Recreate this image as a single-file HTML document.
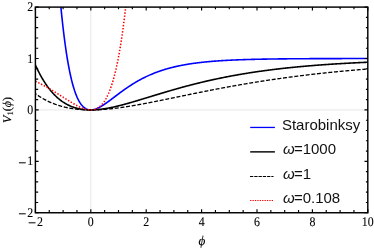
<!DOCTYPE html>
<html><head><meta charset="utf-8"><style>
html,body{margin:0;padding:0;background:#fff;overflow:hidden;}
svg{display:block;will-change:transform}
.t{font-family:"Liberation Serif",serif;font-size:13.2px;fill:#000;stroke:#000;stroke-width:0.1px;text-rendering:geometricPrecision}
.lg{font-family:"Liberation Sans",sans-serif;font-size:15px;fill:#111}
</style></head><body>
<svg width="374" height="248" viewBox="0 0 374 248">
<rect width="374" height="248" fill="#fff"/>
<defs><clipPath id="c"><rect x="35.4" y="7.1" width="332.40000000000003" height="205.65"/></clipPath></defs>
<path d="M90.80,7.1 V212.75 M35.4,109.92 H367.8" stroke="#e2e2e2" stroke-width="0.8" fill="none"/>
<g clip-path="url(#c)" fill="none" stroke-linejoin="round">
<path d="M59.78,-5.06 L60.33,1.08 L60.88,6.94 L61.44,12.56 L61.99,17.93 L62.55,23.06 L63.10,27.97 L63.65,32.66 L64.21,37.14 L64.76,41.41 L65.32,45.49 L65.87,49.38 L66.42,53.09 L66.98,56.63 L67.53,60.00 L68.09,63.20 L68.64,66.25 L69.19,69.15 L69.75,71.91 L70.30,74.52 L70.86,77.01 L71.41,79.36 L71.96,81.59 L72.52,83.71 L73.07,85.71 L73.63,87.60 L74.18,89.38 L74.73,91.06 L75.29,92.65 L75.84,94.14 L76.40,95.54 L76.95,96.86 L77.50,98.09 L78.06,99.24 L78.61,100.32 L79.17,101.32 L79.72,102.26 L80.27,103.12 L80.83,103.92 L81.38,104.66 L81.94,105.34 L82.49,105.96 L83.04,106.53 L83.60,107.05 L84.15,107.52 L84.71,107.93 L85.26,108.31 L85.81,108.64 L86.37,108.92 L86.92,109.17 L87.48,109.38 L88.03,109.55 L88.58,109.69 L89.14,109.80 L89.69,109.87 L90.25,109.91 L90.80,109.92 L91.35,109.91 L91.91,109.87 L92.46,109.81 L93.02,109.72 L93.57,109.61 L94.12,109.48 L94.68,109.33 L95.23,109.15 L95.79,108.96 L96.34,108.76 L96.89,108.54 L97.45,108.30 L98.00,108.04 L98.56,107.78 L99.11,107.50 L99.66,107.21 L100.22,106.90 L100.77,106.59 L101.33,106.27 L101.88,105.93 L102.43,105.59 L102.99,105.24 L103.54,104.88 L104.10,104.52 L104.65,104.15 L105.20,103.77 L105.76,103.39 L106.31,103.00 L106.87,102.61 L107.42,102.21 L107.97,101.81 L108.53,101.41 L109.08,101.00 L109.64,100.59 L110.19,100.18 L110.74,99.77 L111.30,99.35 L111.85,98.93 L112.41,98.52 L112.96,98.10 L113.51,97.68 L114.07,97.26 L114.62,96.84 L115.18,96.42 L115.73,96.00 L116.28,95.58 L116.84,95.16 L117.39,94.75 L117.95,94.33 L118.50,93.92 L119.05,93.50 L119.61,93.09 L120.16,92.68 L120.72,92.27 L121.27,91.87 L121.82,91.46 L122.38,91.06 L122.93,90.66 L123.49,90.26 L124.04,89.87 L124.59,89.47 L125.15,89.08 L125.70,88.70 L126.26,88.31 L126.81,87.93 L127.36,87.55 L127.92,87.18 L128.47,86.81 L129.03,86.44 L129.58,86.07 L130.13,85.71 L130.69,85.35 L131.24,84.99 L131.80,84.64 L132.35,84.29 L132.90,83.94 L133.46,83.60 L134.01,83.26 L134.57,82.92 L135.12,82.59 L135.67,82.26 L136.23,81.93 L136.78,81.61 L137.34,81.29 L137.89,80.97 L138.44,80.66 L139.00,80.35 L139.55,80.04 L140.11,79.74 L140.66,79.44 L141.21,79.15 L141.77,78.85 L142.32,78.57 L142.88,78.28 L143.43,78.00 L143.98,77.72 L144.54,77.44 L145.09,77.17 L145.65,76.90 L146.20,76.64 L146.75,76.37 L147.31,76.12 L147.86,75.86 L148.42,75.61 L148.97,75.36 L149.52,75.11 L150.08,74.87 L150.63,74.63 L151.19,74.39 L151.74,74.16 L152.29,73.93 L152.85,73.70 L153.40,73.47 L153.96,73.25 L154.51,73.03 L155.06,72.82 L155.62,72.60 L156.17,72.39 L156.73,72.19 L157.28,71.98 L157.83,71.78 L158.39,71.58 L158.94,71.38 L159.50,71.19 L160.05,71.00 L160.60,70.81 L161.16,70.62 L161.71,70.44 L162.27,70.26 L162.82,70.08 L163.37,69.91 L163.93,69.73 L164.48,69.56 L165.04,69.39 L165.59,69.23 L166.14,69.07 L166.70,68.90 L167.25,68.74 L167.81,68.59 L168.36,68.43 L168.91,68.28 L169.47,68.13 L170.02,67.98 L170.58,67.84 L171.13,67.69 L171.68,67.55 L172.24,67.41 L172.79,67.28 L173.35,67.14 L173.90,67.01 L174.45,66.88 L175.01,66.75 L175.56,66.62 L176.12,66.49 L176.67,66.37 L177.22,66.25 L177.78,66.13 L178.33,66.01 L178.89,65.89 L179.44,65.78 L179.99,65.66 L180.55,65.55 L181.10,65.44 L181.66,65.33 L182.21,65.23 L182.76,65.12 L183.32,65.02 L183.87,64.92 L184.43,64.82 L184.98,64.72 L185.53,64.62 L186.09,64.52 L186.64,64.43 L187.20,64.34 L187.75,64.25 L188.30,64.15 L188.86,64.07 L189.41,63.98 L189.97,63.89 L190.52,63.81 L191.07,63.72 L191.63,63.64 L192.18,63.56 L192.74,63.48 L193.29,63.40 L193.84,63.33 L194.40,63.25 L194.95,63.17 L195.51,63.10 L196.06,63.03 L196.61,62.96 L197.17,62.89 L197.72,62.82 L198.28,62.75 L198.83,62.68 L199.38,62.62 L199.94,62.55 L200.49,62.49 L201.05,62.42 L201.60,62.36 L202.15,62.30 L202.71,62.24 L203.26,62.18 L203.82,62.12 L204.37,62.07 L204.92,62.01 L205.48,61.95 L206.03,61.90 L206.59,61.84 L207.14,61.79 L207.69,61.74 L208.25,61.69 L208.80,61.64 L209.36,61.59 L209.91,61.54 L210.46,61.49 L211.02,61.44 L211.57,61.40 L212.13,61.35 L212.68,61.30 L213.23,61.26 L213.79,61.22 L214.34,61.17 L214.90,61.13 L215.45,61.09 L216.00,61.05 L216.56,61.01 L217.11,60.97 L217.67,60.93 L218.22,60.89 L218.77,60.85 L219.33,60.81 L219.88,60.78 L220.44,60.74 L220.99,60.70 L221.54,60.67 L222.10,60.63 L222.65,60.60 L223.21,60.57 L223.76,60.53 L224.31,60.50 L224.87,60.47 L225.42,60.44 L225.98,60.41 L226.53,60.38 L227.08,60.35 L227.64,60.32 L228.19,60.29 L228.75,60.26 L229.30,60.23 L229.85,60.20 L230.41,60.18 L230.96,60.15 L231.52,60.12 L232.07,60.10 L232.62,60.07 L233.18,60.05 L233.73,60.02 L234.29,60.00 L234.84,59.97 L235.39,59.95 L235.95,59.93 L236.50,59.91 L237.06,59.88 L237.61,59.86 L238.16,59.84 L238.72,59.82 L239.27,59.80 L239.83,59.78 L240.38,59.76 L240.93,59.74 L241.49,59.72 L242.04,59.70 L242.60,59.68 L243.15,59.66 L243.70,59.64 L244.26,59.62 L244.81,59.60 L245.37,59.59 L245.92,59.57 L246.47,59.55 L247.03,59.54 L247.58,59.52 L248.14,59.50 L248.69,59.49 L249.24,59.47 L249.80,59.46 L250.35,59.44 L250.91,59.43 L251.46,59.41 L252.01,59.40 L252.57,59.38 L253.12,59.37 L253.68,59.35 L254.23,59.34 L254.78,59.33 L255.34,59.31 L255.89,59.30 L256.45,59.29 L257.00,59.28 L257.55,59.26 L258.11,59.25 L258.66,59.24 L259.22,59.23 L259.77,59.22 L260.32,59.21 L260.88,59.19 L261.43,59.18 L261.99,59.17 L262.54,59.16 L263.09,59.15 L263.65,59.14 L264.20,59.13 L264.76,59.12 L265.31,59.11 L265.86,59.10 L266.42,59.09 L266.97,59.08 L267.53,59.07 L268.08,59.06 L268.63,59.06 L269.19,59.05 L269.74,59.04 L270.30,59.03 L270.85,59.02 L271.40,59.01 L271.96,59.00 L272.51,59.00 L273.07,58.99 L273.62,58.98 L274.17,58.97 L274.73,58.97 L275.28,58.96 L275.84,58.95 L276.39,58.94 L276.94,58.94 L277.50,58.93 L278.05,58.92 L278.61,58.92 L279.16,58.91 L279.71,58.90 L280.27,58.90 L280.82,58.89 L281.38,58.89 L281.93,58.88 L282.48,58.87 L283.04,58.87 L283.59,58.86 L284.15,58.86 L284.70,58.85 L285.25,58.85 L285.81,58.84 L286.36,58.83 L286.92,58.83 L287.47,58.82 L288.02,58.82 L288.58,58.81 L289.13,58.81 L289.69,58.80 L290.24,58.80 L290.79,58.80 L291.35,58.79 L291.90,58.79 L292.46,58.78 L293.01,58.78 L293.56,58.77 L294.12,58.77 L294.67,58.76 L295.23,58.76 L295.78,58.76 L296.33,58.75 L296.89,58.75 L297.44,58.74 L298.00,58.74 L298.55,58.74 L299.10,58.73 L299.66,58.73 L300.21,58.73 L300.77,58.72 L301.32,58.72 L301.87,58.72 L302.43,58.71 L302.98,58.71 L303.54,58.71 L304.09,58.70 L304.64,58.70 L305.20,58.70 L305.75,58.69 L306.31,58.69 L306.86,58.69 L307.41,58.69 L307.97,58.68 L308.52,58.68 L309.08,58.68 L309.63,58.67 L310.18,58.67 L310.74,58.67 L311.29,58.67 L311.85,58.66 L312.40,58.66 L312.95,58.66 L313.51,58.66 L314.06,58.65 L314.62,58.65 L315.17,58.65 L315.72,58.65 L316.28,58.65 L316.83,58.64 L317.39,58.64 L317.94,58.64 L318.49,58.64 L319.05,58.64 L319.60,58.63 L320.16,58.63 L320.71,58.63 L321.26,58.63 L321.82,58.63 L322.37,58.62 L322.93,58.62 L323.48,58.62 L324.03,58.62 L324.59,58.62 L325.14,58.62 L325.70,58.61 L326.25,58.61 L326.80,58.61 L327.36,58.61 L327.91,58.61 L328.47,58.61 L329.02,58.60 L329.57,58.60 L330.13,58.60 L330.68,58.60 L331.24,58.60 L331.79,58.60 L332.34,58.60 L332.90,58.59 L333.45,58.59 L334.01,58.59 L334.56,58.59 L335.11,58.59 L335.67,58.59 L336.22,58.59 L336.78,58.59 L337.33,58.58 L337.88,58.58 L338.44,58.58 L338.99,58.58 L339.55,58.58 L340.10,58.58 L340.65,58.58 L341.21,58.58 L341.76,58.58 L342.32,58.57 L342.87,58.57 L343.42,58.57 L343.98,58.57 L344.53,58.57 L345.09,58.57 L345.64,58.57 L346.19,58.57 L346.75,58.57 L347.30,58.57 L347.86,58.57 L348.41,58.56 L348.96,58.56 L349.52,58.56 L350.07,58.56 L350.63,58.56 L351.18,58.56 L351.73,58.56 L352.29,58.56 L352.84,58.56 L353.40,58.56 L353.95,58.56 L354.50,58.56 L355.06,58.56 L355.61,58.55 L356.17,58.55 L356.72,58.55 L357.27,58.55 L357.83,58.55 L358.38,58.55 L358.94,58.55 L359.49,58.55 L360.04,58.55 L360.60,58.55 L361.15,58.55 L361.71,58.55 L362.26,58.55 L362.81,58.55 L363.37,58.55 L363.92,58.55 L364.48,58.54 L365.03,58.54 L365.58,58.54 L366.14,58.54 L366.69,58.54 L367.25,58.54 L367.80,58.54" stroke="#0000ff" stroke-width="1.6"/>
<path d="M35.40,65.00 L35.95,66.21 L36.51,67.40 L37.06,68.57 L37.62,69.71 L38.17,70.83 L38.72,71.93 L39.28,73.00 L39.83,74.05 L40.39,75.08 L40.94,76.09 L41.49,77.08 L42.05,78.04 L42.60,78.99 L43.16,79.91 L43.71,80.82 L44.26,81.70 L44.82,82.57 L45.37,83.42 L45.93,84.24 L46.48,85.05 L47.03,85.84 L47.59,86.62 L48.14,87.37 L48.70,88.11 L49.25,88.83 L49.80,89.54 L50.36,90.23 L50.91,90.90 L51.47,91.55 L52.02,92.20 L52.57,92.82 L53.13,93.43 L53.68,94.02 L54.24,94.60 L54.79,95.17 L55.34,95.72 L55.90,96.26 L56.45,96.78 L57.01,97.29 L57.56,97.79 L58.11,98.27 L58.67,98.74 L59.22,99.20 L59.78,99.65 L60.33,100.08 L60.88,100.50 L61.44,100.91 L61.99,101.31 L62.55,101.69 L63.10,102.07 L63.65,102.43 L64.21,102.78 L64.76,103.12 L65.32,103.46 L65.87,103.78 L66.42,104.09 L66.98,104.39 L67.53,104.68 L68.09,104.96 L68.64,105.23 L69.19,105.49 L69.75,105.75 L70.30,105.99 L70.86,106.23 L71.41,106.45 L71.96,106.67 L72.52,106.88 L73.07,107.08 L73.63,107.27 L74.18,107.46 L74.73,107.64 L75.29,107.81 L75.84,107.97 L76.40,108.12 L76.95,108.27 L77.50,108.41 L78.06,108.54 L78.61,108.67 L79.17,108.79 L79.72,108.90 L80.27,109.01 L80.83,109.11 L81.38,109.20 L81.94,109.29 L82.49,109.37 L83.04,109.44 L83.60,109.51 L84.15,109.58 L84.71,109.63 L85.26,109.69 L85.81,109.73 L86.37,109.77 L86.92,109.81 L87.48,109.84 L88.03,109.87 L88.58,109.89 L89.14,109.90 L89.69,109.92 L90.25,109.92 L90.80,109.92 L91.35,109.92 L91.91,109.92 L92.46,109.91 L93.02,109.89 L93.57,109.87 L94.12,109.85 L94.68,109.82 L95.23,109.79 L95.79,109.75 L96.34,109.72 L96.89,109.67 L97.45,109.63 L98.00,109.58 L98.56,109.52 L99.11,109.47 L99.66,109.41 L100.22,109.35 L100.77,109.28 L101.33,109.21 L101.88,109.14 L102.43,109.06 L102.99,108.99 L103.54,108.91 L104.10,108.82 L104.65,108.74 L105.20,108.65 L105.76,108.56 L106.31,108.46 L106.87,108.36 L107.42,108.27 L107.97,108.16 L108.53,108.06 L109.08,107.96 L109.64,107.85 L110.19,107.74 L110.74,107.63 L111.30,107.51 L111.85,107.40 L112.41,107.28 L112.96,107.16 L113.51,107.04 L114.07,106.91 L114.62,106.79 L115.18,106.66 L115.73,106.53 L116.28,106.40 L116.84,106.27 L117.39,106.13 L117.95,106.00 L118.50,105.86 L119.05,105.73 L119.61,105.59 L120.16,105.45 L120.72,105.30 L121.27,105.16 L121.82,105.02 L122.38,104.87 L122.93,104.72 L123.49,104.58 L124.04,104.43 L124.59,104.28 L125.15,104.13 L125.70,103.98 L126.26,103.82 L126.81,103.67 L127.36,103.51 L127.92,103.36 L128.47,103.20 L129.03,103.05 L129.58,102.89 L130.13,102.73 L130.69,102.57 L131.24,102.41 L131.80,102.25 L132.35,102.09 L132.90,101.93 L133.46,101.76 L134.01,101.60 L134.57,101.44 L135.12,101.27 L135.67,101.11 L136.23,100.94 L136.78,100.78 L137.34,100.61 L137.89,100.45 L138.44,100.28 L139.00,100.11 L139.55,99.95 L140.11,99.78 L140.66,99.61 L141.21,99.44 L141.77,99.28 L142.32,99.11 L142.88,98.94 L143.43,98.77 L143.98,98.60 L144.54,98.43 L145.09,98.26 L145.65,98.09 L146.20,97.92 L146.75,97.75 L147.31,97.58 L147.86,97.41 L148.42,97.25 L148.97,97.08 L149.52,96.91 L150.08,96.74 L150.63,96.57 L151.19,96.40 L151.74,96.23 L152.29,96.06 L152.85,95.89 L153.40,95.72 L153.96,95.55 L154.51,95.38 L155.06,95.21 L155.62,95.04 L156.17,94.88 L156.73,94.71 L157.28,94.54 L157.83,94.37 L158.39,94.20 L158.94,94.03 L159.50,93.87 L160.05,93.70 L160.60,93.53 L161.16,93.37 L161.71,93.20 L162.27,93.03 L162.82,92.87 L163.37,92.70 L163.93,92.54 L164.48,92.37 L165.04,92.21 L165.59,92.04 L166.14,91.88 L166.70,91.72 L167.25,91.55 L167.81,91.39 L168.36,91.23 L168.91,91.06 L169.47,90.90 L170.02,90.74 L170.58,90.58 L171.13,90.42 L171.68,90.26 L172.24,90.10 L172.79,89.94 L173.35,89.78 L173.90,89.62 L174.45,89.46 L175.01,89.31 L175.56,89.15 L176.12,88.99 L176.67,88.83 L177.22,88.68 L177.78,88.52 L178.33,88.37 L178.89,88.21 L179.44,88.06 L179.99,87.91 L180.55,87.75 L181.10,87.60 L181.66,87.45 L182.21,87.30 L182.76,87.14 L183.32,86.99 L183.87,86.84 L184.43,86.69 L184.98,86.54 L185.53,86.39 L186.09,86.25 L186.64,86.10 L187.20,85.95 L187.75,85.81 L188.30,85.66 L188.86,85.51 L189.41,85.37 L189.97,85.22 L190.52,85.08 L191.07,84.94 L191.63,84.79 L192.18,84.65 L192.74,84.51 L193.29,84.37 L193.84,84.23 L194.40,84.09 L194.95,83.95 L195.51,83.81 L196.06,83.67 L196.61,83.53 L197.17,83.39 L197.72,83.26 L198.28,83.12 L198.83,82.98 L199.38,82.85 L199.94,82.71 L200.49,82.58 L201.05,82.44 L201.60,82.31 L202.15,82.18 L202.71,82.05 L203.26,81.92 L203.82,81.78 L204.37,81.65 L204.92,81.52 L205.48,81.40 L206.03,81.27 L206.59,81.14 L207.14,81.01 L207.69,80.88 L208.25,80.76 L208.80,80.63 L209.36,80.51 L209.91,80.38 L210.46,80.26 L211.02,80.13 L211.57,80.01 L212.13,79.89 L212.68,79.77 L213.23,79.65 L213.79,79.52 L214.34,79.40 L214.90,79.28 L215.45,79.16 L216.00,79.05 L216.56,78.93 L217.11,78.81 L217.67,78.69 L218.22,78.58 L218.77,78.46 L219.33,78.35 L219.88,78.23 L220.44,78.12 L220.99,78.00 L221.54,77.89 L222.10,77.78 L222.65,77.67 L223.21,77.55 L223.76,77.44 L224.31,77.33 L224.87,77.22 L225.42,77.11 L225.98,77.01 L226.53,76.90 L227.08,76.79 L227.64,76.68 L228.19,76.58 L228.75,76.47 L229.30,76.36 L229.85,76.26 L230.41,76.15 L230.96,76.05 L231.52,75.95 L232.07,75.84 L232.62,75.74 L233.18,75.64 L233.73,75.54 L234.29,75.44 L234.84,75.34 L235.39,75.24 L235.95,75.14 L236.50,75.04 L237.06,74.94 L237.61,74.84 L238.16,74.75 L238.72,74.65 L239.27,74.55 L239.83,74.46 L240.38,74.36 L240.93,74.27 L241.49,74.17 L242.04,74.08 L242.60,73.99 L243.15,73.89 L243.70,73.80 L244.26,73.71 L244.81,73.62 L245.37,73.53 L245.92,73.44 L246.47,73.35 L247.03,73.26 L247.58,73.17 L248.14,73.08 L248.69,72.99 L249.24,72.90 L249.80,72.82 L250.35,72.73 L250.91,72.65 L251.46,72.56 L252.01,72.47 L252.57,72.39 L253.12,72.31 L253.68,72.22 L254.23,72.14 L254.78,72.06 L255.34,71.97 L255.89,71.89 L256.45,71.81 L257.00,71.73 L257.55,71.65 L258.11,71.57 L258.66,71.49 L259.22,71.41 L259.77,71.33 L260.32,71.25 L260.88,71.17 L261.43,71.10 L261.99,71.02 L262.54,70.94 L263.09,70.87 L263.65,70.79 L264.20,70.72 L264.76,70.64 L265.31,70.57 L265.86,70.49 L266.42,70.42 L266.97,70.35 L267.53,70.27 L268.08,70.20 L268.63,70.13 L269.19,70.06 L269.74,69.99 L270.30,69.92 L270.85,69.85 L271.40,69.78 L271.96,69.71 L272.51,69.64 L273.07,69.57 L273.62,69.50 L274.17,69.43 L274.73,69.36 L275.28,69.30 L275.84,69.23 L276.39,69.16 L276.94,69.10 L277.50,69.03 L278.05,68.97 L278.61,68.90 L279.16,68.84 L279.71,68.77 L280.27,68.71 L280.82,68.65 L281.38,68.58 L281.93,68.52 L282.48,68.46 L283.04,68.40 L283.59,68.33 L284.15,68.27 L284.70,68.21 L285.25,68.15 L285.81,68.09 L286.36,68.03 L286.92,67.97 L287.47,67.91 L288.02,67.85 L288.58,67.80 L289.13,67.74 L289.69,67.68 L290.24,67.62 L290.79,67.57 L291.35,67.51 L291.90,67.45 L292.46,67.40 L293.01,67.34 L293.56,67.29 L294.12,67.23 L294.67,67.18 L295.23,67.12 L295.78,67.07 L296.33,67.01 L296.89,66.96 L297.44,66.91 L298.00,66.85 L298.55,66.80 L299.10,66.75 L299.66,66.70 L300.21,66.65 L300.77,66.60 L301.32,66.54 L301.87,66.49 L302.43,66.44 L302.98,66.39 L303.54,66.34 L304.09,66.29 L304.64,66.25 L305.20,66.20 L305.75,66.15 L306.31,66.10 L306.86,66.05 L307.41,66.00 L307.97,65.96 L308.52,65.91 L309.08,65.86 L309.63,65.82 L310.18,65.77 L310.74,65.72 L311.29,65.68 L311.85,65.63 L312.40,65.59 L312.95,65.54 L313.51,65.50 L314.06,65.45 L314.62,65.41 L315.17,65.37 L315.72,65.32 L316.28,65.28 L316.83,65.24 L317.39,65.19 L317.94,65.15 L318.49,65.11 L319.05,65.07 L319.60,65.03 L320.16,64.98 L320.71,64.94 L321.26,64.90 L321.82,64.86 L322.37,64.82 L322.93,64.78 L323.48,64.74 L324.03,64.70 L324.59,64.66 L325.14,64.62 L325.70,64.58 L326.25,64.55 L326.80,64.51 L327.36,64.47 L327.91,64.43 L328.47,64.39 L329.02,64.36 L329.57,64.32 L330.13,64.28 L330.68,64.24 L331.24,64.21 L331.79,64.17 L332.34,64.14 L332.90,64.10 L333.45,64.06 L334.01,64.03 L334.56,63.99 L335.11,63.96 L335.67,63.92 L336.22,63.89 L336.78,63.85 L337.33,63.82 L337.88,63.79 L338.44,63.75 L338.99,63.72 L339.55,63.69 L340.10,63.65 L340.65,63.62 L341.21,63.59 L341.76,63.55 L342.32,63.52 L342.87,63.49 L343.42,63.46 L343.98,63.43 L344.53,63.39 L345.09,63.36 L345.64,63.33 L346.19,63.30 L346.75,63.27 L347.30,63.24 L347.86,63.21 L348.41,63.18 L348.96,63.15 L349.52,63.12 L350.07,63.09 L350.63,63.06 L351.18,63.03 L351.73,63.00 L352.29,62.97 L352.84,62.94 L353.40,62.92 L353.95,62.89 L354.50,62.86 L355.06,62.83 L355.61,62.80 L356.17,62.78 L356.72,62.75 L357.27,62.72 L357.83,62.69 L358.38,62.67 L358.94,62.64 L359.49,62.61 L360.04,62.59 L360.60,62.56 L361.15,62.54 L361.71,62.51 L362.26,62.48 L362.81,62.46 L363.37,62.43 L363.92,62.41 L364.48,62.38 L365.03,62.36 L365.58,62.33 L366.14,62.31 L366.69,62.28 L367.25,62.26 L367.80,62.24" stroke="#000" stroke-width="1.6"/>
<path d="M35.40,93.68 L35.95,94.08 L36.51,94.48 L37.06,94.86 L37.62,95.24 L38.17,95.61 L38.72,95.98 L39.28,96.34 L39.83,96.69 L40.39,97.04 L40.94,97.38 L41.49,97.72 L42.05,98.05 L42.60,98.37 L43.16,98.69 L43.71,99.00 L44.26,99.31 L44.82,99.61 L45.37,99.90 L45.93,100.19 L46.48,100.47 L47.03,100.75 L47.59,101.03 L48.14,101.29 L48.70,101.55 L49.25,101.81 L49.80,102.06 L50.36,102.31 L50.91,102.55 L51.47,102.79 L52.02,103.02 L52.57,103.25 L53.13,103.47 L53.68,103.69 L54.24,103.90 L54.79,104.11 L55.34,104.31 L55.90,104.51 L56.45,104.71 L57.01,104.90 L57.56,105.08 L58.11,105.27 L58.67,105.44 L59.22,105.62 L59.78,105.79 L60.33,105.95 L60.88,106.11 L61.44,106.27 L61.99,106.42 L62.55,106.57 L63.10,106.72 L63.65,106.86 L64.21,107.00 L64.76,107.13 L65.32,107.26 L65.87,107.39 L66.42,107.51 L66.98,107.63 L67.53,107.74 L68.09,107.86 L68.64,107.96 L69.19,108.07 L69.75,108.17 L70.30,108.27 L70.86,108.37 L71.41,108.46 L71.96,108.55 L72.52,108.63 L73.07,108.72 L73.63,108.79 L74.18,108.87 L74.73,108.94 L75.29,109.02 L75.84,109.08 L76.40,109.15 L76.95,109.21 L77.50,109.27 L78.06,109.33 L78.61,109.38 L79.17,109.43 L79.72,109.48 L80.27,109.52 L80.83,109.57 L81.38,109.61 L81.94,109.64 L82.49,109.68 L83.04,109.71 L83.60,109.74 L84.15,109.77 L84.71,109.80 L85.26,109.82 L85.81,109.84 L86.37,109.86 L86.92,109.87 L87.48,109.89 L88.03,109.90 L88.58,109.91 L89.14,109.92 L89.69,109.92 L90.25,109.92 L90.80,109.92 L91.35,109.92 L91.91,109.92 L92.46,109.92 L93.02,109.91 L93.57,109.90 L94.12,109.89 L94.68,109.88 L95.23,109.86 L95.79,109.85 L96.34,109.83 L96.89,109.81 L97.45,109.79 L98.00,109.76 L98.56,109.74 L99.11,109.71 L99.66,109.68 L100.22,109.65 L100.77,109.62 L101.33,109.59 L101.88,109.55 L102.43,109.51 L102.99,109.48 L103.54,109.44 L104.10,109.40 L104.65,109.35 L105.20,109.31 L105.76,109.26 L106.31,109.22 L106.87,109.17 L107.42,109.12 L107.97,109.07 L108.53,109.02 L109.08,108.96 L109.64,108.91 L110.19,108.85 L110.74,108.79 L111.30,108.74 L111.85,108.68 L112.41,108.61 L112.96,108.55 L113.51,108.49 L114.07,108.42 L114.62,108.36 L115.18,108.29 L115.73,108.22 L116.28,108.16 L116.84,108.09 L117.39,108.02 L117.95,107.94 L118.50,107.87 L119.05,107.80 L119.61,107.72 L120.16,107.65 L120.72,107.57 L121.27,107.49 L121.82,107.41 L122.38,107.33 L122.93,107.25 L123.49,107.17 L124.04,107.09 L124.59,107.01 L125.15,106.92 L125.70,106.84 L126.26,106.75 L126.81,106.67 L127.36,106.58 L127.92,106.49 L128.47,106.41 L129.03,106.32 L129.58,106.23 L130.13,106.14 L130.69,106.05 L131.24,105.95 L131.80,105.86 L132.35,105.77 L132.90,105.68 L133.46,105.58 L134.01,105.49 L134.57,105.39 L135.12,105.30 L135.67,105.20 L136.23,105.10 L136.78,105.00 L137.34,104.91 L137.89,104.81 L138.44,104.71 L139.00,104.61 L139.55,104.51 L140.11,104.41 L140.66,104.31 L141.21,104.20 L141.77,104.10 L142.32,104.00 L142.88,103.90 L143.43,103.79 L143.98,103.69 L144.54,103.58 L145.09,103.48 L145.65,103.37 L146.20,103.27 L146.75,103.16 L147.31,103.06 L147.86,102.95 L148.42,102.84 L148.97,102.74 L149.52,102.63 L150.08,102.52 L150.63,102.41 L151.19,102.30 L151.74,102.20 L152.29,102.09 L152.85,101.98 L153.40,101.87 L153.96,101.76 L154.51,101.65 L155.06,101.54 L155.62,101.43 L156.17,101.32 L156.73,101.21 L157.28,101.09 L157.83,100.98 L158.39,100.87 L158.94,100.76 L159.50,100.65 L160.05,100.54 L160.60,100.42 L161.16,100.31 L161.71,100.20 L162.27,100.08 L162.82,99.97 L163.37,99.86 L163.93,99.75 L164.48,99.63 L165.04,99.52 L165.59,99.41 L166.14,99.29 L166.70,99.18 L167.25,99.06 L167.81,98.95 L168.36,98.84 L168.91,98.72 L169.47,98.61 L170.02,98.49 L170.58,98.38 L171.13,98.26 L171.68,98.15 L172.24,98.04 L172.79,97.92 L173.35,97.81 L173.90,97.69 L174.45,97.58 L175.01,97.46 L175.56,97.35 L176.12,97.23 L176.67,97.12 L177.22,97.00 L177.78,96.89 L178.33,96.78 L178.89,96.66 L179.44,96.55 L179.99,96.43 L180.55,96.32 L181.10,96.20 L181.66,96.09 L182.21,95.97 L182.76,95.86 L183.32,95.74 L183.87,95.63 L184.43,95.52 L184.98,95.40 L185.53,95.29 L186.09,95.17 L186.64,95.06 L187.20,94.95 L187.75,94.83 L188.30,94.72 L188.86,94.60 L189.41,94.49 L189.97,94.38 L190.52,94.26 L191.07,94.15 L191.63,94.04 L192.18,93.92 L192.74,93.81 L193.29,93.70 L193.84,93.58 L194.40,93.47 L194.95,93.36 L195.51,93.25 L196.06,93.13 L196.61,93.02 L197.17,92.91 L197.72,92.80 L198.28,92.69 L198.83,92.57 L199.38,92.46 L199.94,92.35 L200.49,92.24 L201.05,92.13 L201.60,92.02 L202.15,91.91 L202.71,91.80 L203.26,91.69 L203.82,91.58 L204.37,91.47 L204.92,91.36 L205.48,91.25 L206.03,91.14 L206.59,91.03 L207.14,90.92 L207.69,90.81 L208.25,90.70 L208.80,90.59 L209.36,90.48 L209.91,90.37 L210.46,90.26 L211.02,90.16 L211.57,90.05 L212.13,89.94 L212.68,89.83 L213.23,89.73 L213.79,89.62 L214.34,89.51 L214.90,89.40 L215.45,89.30 L216.00,89.19 L216.56,89.09 L217.11,88.98 L217.67,88.87 L218.22,88.77 L218.77,88.66 L219.33,88.56 L219.88,88.45 L220.44,88.35 L220.99,88.24 L221.54,88.14 L222.10,88.04 L222.65,87.93 L223.21,87.83 L223.76,87.72 L224.31,87.62 L224.87,87.52 L225.42,87.42 L225.98,87.31 L226.53,87.21 L227.08,87.11 L227.64,87.01 L228.19,86.90 L228.75,86.80 L229.30,86.70 L229.85,86.60 L230.41,86.50 L230.96,86.40 L231.52,86.30 L232.07,86.20 L232.62,86.10 L233.18,86.00 L233.73,85.90 L234.29,85.80 L234.84,85.70 L235.39,85.60 L235.95,85.51 L236.50,85.41 L237.06,85.31 L237.61,85.21 L238.16,85.12 L238.72,85.02 L239.27,84.92 L239.83,84.82 L240.38,84.73 L240.93,84.63 L241.49,84.54 L242.04,84.44 L242.60,84.34 L243.15,84.25 L243.70,84.15 L244.26,84.06 L244.81,83.97 L245.37,83.87 L245.92,83.78 L246.47,83.68 L247.03,83.59 L247.58,83.50 L248.14,83.40 L248.69,83.31 L249.24,83.22 L249.80,83.13 L250.35,83.03 L250.91,82.94 L251.46,82.85 L252.01,82.76 L252.57,82.67 L253.12,82.58 L253.68,82.49 L254.23,82.40 L254.78,82.31 L255.34,82.22 L255.89,82.13 L256.45,82.04 L257.00,81.95 L257.55,81.86 L258.11,81.77 L258.66,81.69 L259.22,81.60 L259.77,81.51 L260.32,81.42 L260.88,81.34 L261.43,81.25 L261.99,81.16 L262.54,81.08 L263.09,80.99 L263.65,80.90 L264.20,80.82 L264.76,80.73 L265.31,80.65 L265.86,80.56 L266.42,80.48 L266.97,80.40 L267.53,80.31 L268.08,80.23 L268.63,80.14 L269.19,80.06 L269.74,79.98 L270.30,79.90 L270.85,79.81 L271.40,79.73 L271.96,79.65 L272.51,79.57 L273.07,79.49 L273.62,79.40 L274.17,79.32 L274.73,79.24 L275.28,79.16 L275.84,79.08 L276.39,79.00 L276.94,78.92 L277.50,78.84 L278.05,78.76 L278.61,78.68 L279.16,78.61 L279.71,78.53 L280.27,78.45 L280.82,78.37 L281.38,78.29 L281.93,78.22 L282.48,78.14 L283.04,78.06 L283.59,77.99 L284.15,77.91 L284.70,77.83 L285.25,77.76 L285.81,77.68 L286.36,77.61 L286.92,77.53 L287.47,77.46 L288.02,77.38 L288.58,77.31 L289.13,77.23 L289.69,77.16 L290.24,77.08 L290.79,77.01 L291.35,76.94 L291.90,76.86 L292.46,76.79 L293.01,76.72 L293.56,76.65 L294.12,76.58 L294.67,76.50 L295.23,76.43 L295.78,76.36 L296.33,76.29 L296.89,76.22 L297.44,76.15 L298.00,76.08 L298.55,76.01 L299.10,75.94 L299.66,75.87 L300.21,75.80 L300.77,75.73 L301.32,75.66 L301.87,75.59 L302.43,75.52 L302.98,75.46 L303.54,75.39 L304.09,75.32 L304.64,75.25 L305.20,75.19 L305.75,75.12 L306.31,75.05 L306.86,74.99 L307.41,74.92 L307.97,74.85 L308.52,74.79 L309.08,74.72 L309.63,74.66 L310.18,74.59 L310.74,74.53 L311.29,74.46 L311.85,74.40 L312.40,74.33 L312.95,74.27 L313.51,74.21 L314.06,74.14 L314.62,74.08 L315.17,74.02 L315.72,73.95 L316.28,73.89 L316.83,73.83 L317.39,73.77 L317.94,73.70 L318.49,73.64 L319.05,73.58 L319.60,73.52 L320.16,73.46 L320.71,73.40 L321.26,73.34 L321.82,73.28 L322.37,73.22 L322.93,73.16 L323.48,73.10 L324.03,73.04 L324.59,72.98 L325.14,72.92 L325.70,72.86 L326.25,72.80 L326.80,72.74 L327.36,72.68 L327.91,72.63 L328.47,72.57 L329.02,72.51 L329.57,72.45 L330.13,72.40 L330.68,72.34 L331.24,72.28 L331.79,72.23 L332.34,72.17 L332.90,72.11 L333.45,72.06 L334.01,72.00 L334.56,71.95 L335.11,71.89 L335.67,71.84 L336.22,71.78 L336.78,71.73 L337.33,71.67 L337.88,71.62 L338.44,71.56 L338.99,71.51 L339.55,71.46 L340.10,71.40 L340.65,71.35 L341.21,71.30 L341.76,71.24 L342.32,71.19 L342.87,71.14 L343.42,71.09 L343.98,71.03 L344.53,70.98 L345.09,70.93 L345.64,70.88 L346.19,70.83 L346.75,70.78 L347.30,70.73 L347.86,70.68 L348.41,70.62 L348.96,70.57 L349.52,70.52 L350.07,70.47 L350.63,70.42 L351.18,70.38 L351.73,70.33 L352.29,70.28 L352.84,70.23 L353.40,70.18 L353.95,70.13 L354.50,70.08 L355.06,70.03 L355.61,69.99 L356.17,69.94 L356.72,69.89 L357.27,69.84 L357.83,69.80 L358.38,69.75 L358.94,69.70 L359.49,69.65 L360.04,69.61 L360.60,69.56 L361.15,69.52 L361.71,69.47 L362.26,69.42 L362.81,69.38 L363.37,69.33 L363.92,69.29 L364.48,69.24 L365.03,69.20 L365.58,69.15 L366.14,69.11 L366.69,69.06 L367.25,69.02 L367.80,68.97" stroke="#000" stroke-width="1.3" stroke-dasharray="4 1.7" stroke-dashoffset="-3"/>
<path d="M35.40,81.20 L35.95,81.47 L36.51,81.74 L37.06,82.02 L37.62,82.29 L38.17,82.57 L38.72,82.85 L39.28,83.13 L39.83,83.42 L40.39,83.71 L40.94,84.00 L41.49,84.29 L42.05,84.58 L42.60,84.88 L43.16,85.18 L43.71,85.48 L44.26,85.79 L44.82,86.09 L45.37,86.40 L45.93,86.71 L46.48,87.03 L47.03,87.34 L47.59,87.66 L48.14,87.98 L48.70,88.30 L49.25,88.62 L49.80,88.95 L50.36,89.27 L50.91,89.60 L51.47,89.94 L52.02,90.27 L52.57,90.60 L53.13,90.94 L53.68,91.28 L54.24,91.62 L54.79,91.96 L55.34,92.30 L55.90,92.65 L56.45,92.99 L57.01,93.34 L57.56,93.69 L58.11,94.03 L58.67,94.38 L59.22,94.73 L59.78,95.09 L60.33,95.44 L60.88,95.79 L61.44,96.14 L61.99,96.50 L62.55,96.85 L63.10,97.20 L63.65,97.56 L64.21,97.91 L64.76,98.26 L65.32,98.62 L65.87,98.97 L66.42,99.32 L66.98,99.67 L67.53,100.02 L68.09,100.37 L68.64,100.71 L69.19,101.06 L69.75,101.40 L70.30,101.74 L70.86,102.08 L71.41,102.41 L71.96,102.75 L72.52,103.08 L73.07,103.40 L73.63,103.73 L74.18,104.04 L74.73,104.36 L75.29,104.67 L75.84,104.97 L76.40,105.27 L76.95,105.57 L77.50,105.86 L78.06,106.14 L78.61,106.42 L79.17,106.69 L79.72,106.95 L80.27,107.20 L80.83,107.45 L81.38,107.69 L81.94,107.92 L82.49,108.14 L83.04,108.35 L83.60,108.55 L84.15,108.73 L84.71,108.91 L85.26,109.08 L85.81,109.23 L86.37,109.37 L86.92,109.49 L87.48,109.60 L88.03,109.70 L88.58,109.78 L89.14,109.84 L89.69,109.89 L90.25,109.92 L90.80,109.92 L91.35,109.91 L91.91,109.88 L92.46,109.83 L93.02,109.75 L93.57,109.65 L94.12,109.53 L94.68,109.38 L95.23,109.20 L95.79,109.00 L96.34,108.76 L96.89,108.50 L97.45,108.20 L98.00,107.88 L98.56,107.51 L99.11,107.12 L99.66,106.68 L100.22,106.21 L100.77,105.70 L101.33,105.15 L101.88,104.56 L102.43,103.92 L102.99,103.24 L103.54,102.51 L104.10,101.73 L104.65,100.90 L105.20,100.01 L105.76,99.08 L106.31,98.08 L106.87,97.03 L107.42,95.92 L107.97,94.74 L108.53,93.50 L109.08,92.20 L109.64,90.82 L110.19,89.37 L110.74,87.85 L111.30,86.24 L111.85,84.56 L112.41,82.80 L112.96,80.95 L113.51,79.02 L114.07,76.99 L114.62,74.87 L115.18,72.65 L115.73,70.33 L116.28,67.90 L116.84,65.37 L117.39,62.73 L117.95,59.97 L118.50,57.09 L119.05,54.09 L119.61,50.96 L120.16,47.70 L120.72,44.31 L121.27,40.77 L121.82,37.09 L122.38,33.27 L122.93,29.28 L123.49,25.14 L124.04,20.84 L124.59,16.36 L125.15,11.71 L125.70,6.88 L126.26,1.86 L126.81,-3.35" stroke="#ff0000" stroke-width="1.55" stroke-dasharray="1.45 1.7"/>
</g>
<rect x="246" y="113" width="120.6" height="96" fill="#fff"/>
<path d="M35.40,212.75 v-3.40 M35.40,7.10 v3.40 M49.25,212.75 v-2.80 M49.25,7.10 v2.10 M63.10,212.75 v-2.80 M63.10,7.10 v2.10 M76.95,212.75 v-2.80 M76.95,7.10 v2.10 M90.80,212.75 v-3.40 M90.80,7.10 v3.40 M104.65,212.75 v-2.80 M104.65,7.10 v2.10 M118.50,212.75 v-2.80 M118.50,7.10 v2.10 M132.35,212.75 v-2.80 M132.35,7.10 v2.10 M146.20,212.75 v-3.40 M146.20,7.10 v3.40 M160.05,212.75 v-2.80 M160.05,7.10 v2.10 M173.90,212.75 v-2.80 M173.90,7.10 v2.10 M187.75,212.75 v-2.80 M187.75,7.10 v2.10 M201.60,212.75 v-3.40 M201.60,7.10 v3.40 M215.45,212.75 v-2.80 M215.45,7.10 v2.10 M229.30,212.75 v-2.80 M229.30,7.10 v2.10 M243.15,212.75 v-2.80 M243.15,7.10 v2.10 M257.00,212.75 v-3.40 M257.00,7.10 v3.40 M270.85,212.75 v-2.80 M270.85,7.10 v2.10 M284.70,212.75 v-2.80 M284.70,7.10 v2.10 M298.55,212.75 v-2.80 M298.55,7.10 v2.10 M312.40,212.75 v-3.40 M312.40,7.10 v3.40 M326.25,212.75 v-2.80 M326.25,7.10 v2.10 M340.10,212.75 v-2.80 M340.10,7.10 v2.10 M353.95,212.75 v-2.80 M353.95,7.10 v2.10 M367.80,212.75 v-3.40 M367.80,7.10 v3.40 M35.40,212.75 h3.30 M367.80,212.75 h-3.30 M35.40,202.47 h2.80 M367.80,202.47 h-1.90 M35.40,192.19 h2.80 M367.80,192.19 h-1.90 M35.40,181.90 h2.80 M367.80,181.90 h-1.90 M35.40,171.62 h2.80 M367.80,171.62 h-1.90 M35.40,161.34 h3.30 M367.80,161.34 h-3.30 M35.40,151.05 h2.80 M367.80,151.05 h-1.90 M35.40,140.77 h2.80 M367.80,140.77 h-1.90 M35.40,130.49 h2.80 M367.80,130.49 h-1.90 M35.40,120.21 h2.80 M367.80,120.21 h-1.90 M35.40,109.92 h3.30 M367.80,109.92 h-3.30 M35.40,99.64 h2.80 M367.80,99.64 h-1.90 M35.40,89.36 h2.80 M367.80,89.36 h-1.90 M35.40,79.08 h2.80 M367.80,79.08 h-1.90 M35.40,68.79 h2.80 M367.80,68.79 h-1.90 M35.40,58.51 h3.30 M367.80,58.51 h-3.30 M35.40,48.23 h2.80 M367.80,48.23 h-1.90 M35.40,37.95 h2.80 M367.80,37.95 h-1.90 M35.40,27.66 h2.80 M367.80,27.66 h-1.90 M35.40,17.38 h2.80 M367.80,17.38 h-1.90 M35.40,7.10 h3.30 M367.80,7.10 h-3.30" stroke="#000" stroke-width="1.15" fill="none"/>
<rect x="35.4" y="7.1" width="332.40000000000003" height="205.65" fill="none" stroke="#000" stroke-width="1.45"/>
<g class="t"><text transform="translate(35.40,225.7) scale(0.9,1)" text-anchor="middle"><tspan font-size="16px" dy="2.2">−</tspan><tspan dx="1" dy="-2.2">2</tspan></text><text transform="translate(90.80,225.7) scale(0.9,1)" text-anchor="middle">0</text><text transform="translate(146.20,225.7) scale(0.9,1)" text-anchor="middle">2</text><text transform="translate(201.60,225.7) scale(0.9,1)" text-anchor="middle">4</text><text transform="translate(257.00,225.7) scale(0.9,1)" text-anchor="middle">6</text><text transform="translate(312.40,225.7) scale(0.9,1)" text-anchor="middle">8</text><text transform="translate(367.80,225.7) scale(0.9,1)" text-anchor="middle">10</text><text transform="translate(33.3,216.75) scale(0.9,1)" text-anchor="end"><tspan font-size="16px" dy="2.2">−</tspan><tspan dx="1" dy="-2.2">2</tspan></text><text transform="translate(33.3,165.34) scale(0.9,1)" text-anchor="end"><tspan font-size="16px" dy="2.2">−</tspan><tspan dx="1" dy="-2.2">1</tspan></text><text transform="translate(33.3,113.92) scale(0.9,1)" text-anchor="end">0</text><text transform="translate(33.3,62.51) scale(0.9,1)" text-anchor="end">1</text><text transform="translate(33.3,11.10) scale(0.9,1)" text-anchor="end">2</text>
<text x="202" y="244.5" text-anchor="middle" font-style="italic">&#981;</text>
<text transform="translate(10.5,110) rotate(-90)" text-anchor="middle" font-size="12px"><tspan font-style="italic">V</tspan><tspan font-size="8.5px" dy="2">1</tspan><tspan dy="-2">(</tspan><tspan font-style="italic">&#981;</tspan>)</text>
</g>
<g fill="none">
<path d="M250.2,127.45 H274.9" stroke="#0000ff" stroke-width="1.3"/>
<path d="M250.2,151.85 H274.9" stroke="#2a2a2a" stroke-width="1.7"/>
<path d="M250,176.45 H273.5" stroke="#000" stroke-width="1.1" stroke-dasharray="3.3 0.97"/>
<path d="M250.1,200.45 H274" stroke="#ff0000" stroke-width="1.1" stroke-dasharray="1.3 1.1"/>
</g>
<g class="lg">
<text x="281.9" y="129.8">Starobinksy</text>
<text x="283.1" y="154"><tspan font-style="italic">&#969;</tspan><tspan dx="-0.7">=</tspan><tspan dx="-0.2">1000</tspan></text>
<text x="283.1" y="179.1"><tspan font-style="italic">&#969;</tspan><tspan dx="-0.7">=</tspan><tspan dx="-0.2">1</tspan></text>
<text x="283.1" y="203.1"><tspan font-style="italic">&#969;</tspan><tspan dx="-0.7">=</tspan><tspan dx="-0.2">0.108</tspan></text>
</g>
</svg></body></html>
